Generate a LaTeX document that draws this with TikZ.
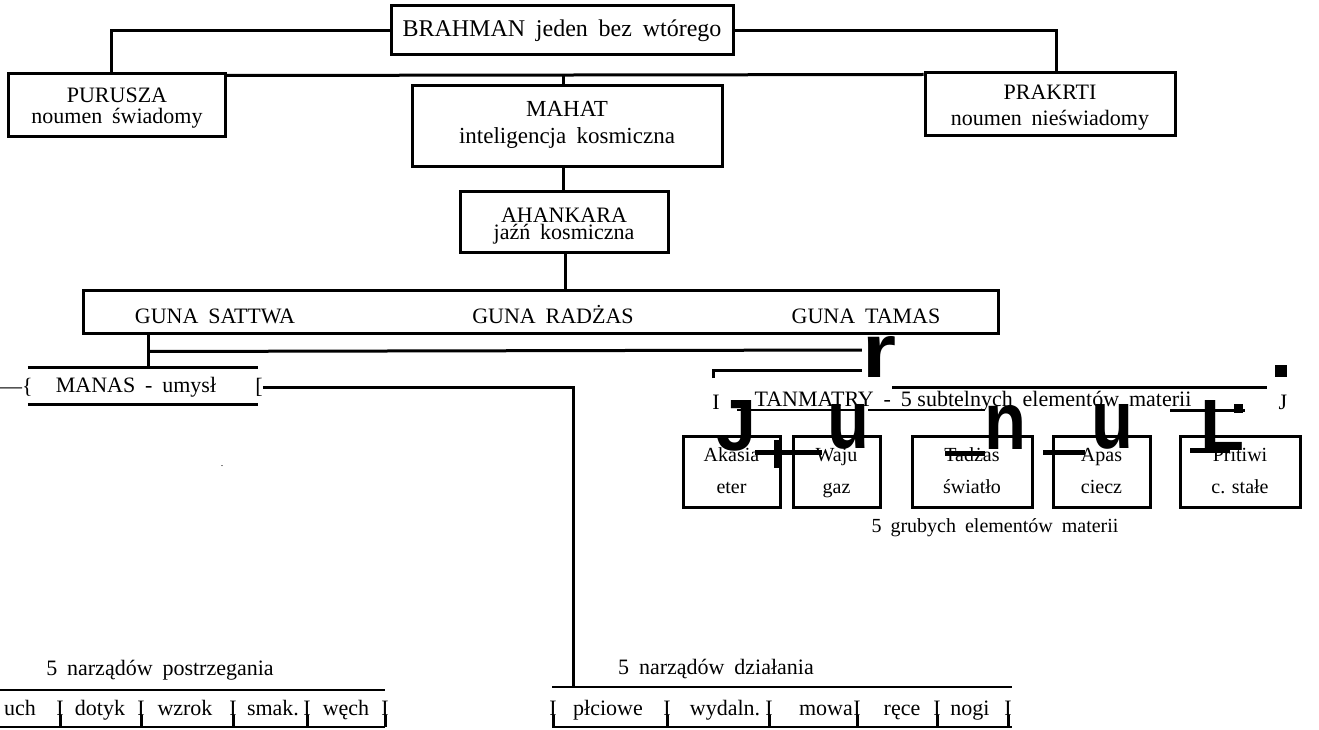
\documentclass[tikz,border=0pt]{standalone}
\usepackage{fontspec}
\setmainfont{Liberation Serif}
\newfontfamily\bigsans{Liberation Sans}
\newcommand\myfs[2]{\fontsize{#1}{#2}\selectfont}
\newcommand\gp{\hspace{0.45em}}
\newcommand\bigglyph[3]{\resizebox{#1pt}{#2pt}{\bigsans\bfseries #3}}
\begin{document}
\begin{tikzpicture}[x=1pt,y=-1pt,
  box/.style={draw, line width=3pt, inner sep=0, align=center},
  lab/.style={inner sep=0, align=center},
  ln/.style={line width=3pt},
  thin/.style={line width=2pt},
  bar/.style={line width=5pt},
  txt/.style={inner sep=0, font=\myfs{22}{22}},
  row/.style={inner sep=0, anchor=base, font=\myfs{22}{22}},
  small/.style={inner sep=0, font=\myfs{20}{20}},
  glyph/.style={inner sep=0, anchor=south}]
\useasboundingbox (0,0) rectangle (1319,730);

% top level
\node[box, minimum width=342, minimum height=49, font=\myfs{24}{24}] (brahman) at (562,30.5) {BRAHMAN\gp jeden\gp bez\gp wtórego};
\node[box, minimum width=217, minimum height=63] (purusza) at (116.5,105.5) {};
\node[lab, font=\myfs{22}{21}] (purushaT) at (117,108) {PURUSZA\\noumen\gp świadomy};
\node[box, minimum width=250, minimum height=63] (prakrti) at (1050,104.5) {};
\node[lab, font=\myfs{22}{26}] (prakrtiT) at (1050,108) {PRAKRTI\\noumen\gp nieświadomy};
\node[box, minimum width=310, minimum height=81] (mahat) at (567,126.5) {};
\node[lab, font=\myfs{23}{27}] (mahatT) at (567,124.5) {MAHAT\\inteligencja\gp kosmiczna};
\node[box, minimum width=208, minimum height=60] (ahankara) at (564,222) {};
\node[lab, font=\myfs{22}{17}] (ahankaraT) at (564,226) {AHANKARA\\jaźń\gp kosmiczna};

\draw[ln] (brahman.west) -| ([xshift=-5]purusza.north);
\draw[ln] (brahman.east) -| ([xshift=6]prakrti.north);
\draw[ln] ([yshift=-3]purusza.north east) -- ([yshift=-3]prakrti.north west);
\draw[ln] ([xshift=-4]mahat.north) -- ++(0,-9);
\draw[ln] ([xshift=-4]mahat.south) -- ([xshift=-1]ahankara.north);
\draw[ln] ([xshift=1]ahankara.south) -- ++(0,38) coordinate (gunatop);

% guna
\node[box, minimum width=915, minimum height=43] (guna) at (540.5,311.5) {};
\node[txt] (sattwa) at (215,316) {GUNA\gp SATTWA};
\node[txt] (radzas) at (553,315) {GUNA\gp RADŻAS};
\node[txt] (tamas) at (866,316) {GUNA\gp TAMAS};

% manas
\node[inner sep=0, minimum width=230, minimum height=36] (manas) at (143,386) {};
\node[txt] (manaslabel) at (136,387) {MANAS\gp -\gp umysł};
\node[txt, anchor=west] (lbrace) at (0,387) {—\{};
\node[txt] (rbrack) at (259,387) {[};
\draw[ln] (manas.north west) -- (manas.north east);
\draw[ln] (manas.south west) -- (manas.south east);
\draw[ln] ([xshift=67]guna.south west) -- ([xshift=67]guna.south west |- manas.north);
\coordinate (dzl) at (573,687);
\draw[ln] (rbrack.east) -| (dzl);

% tanmatry
\node[glyph] (rg) at (879,378) {\bigglyph{34}{41}{r}};
\draw[ln] ([xshift=67,yshift=-17]guna.south west) -- (rg.west |- 0,350);
\draw[ln] (713,378) -- (713,370) -- (rg.west |- 0,370);
\draw[ln] (892,387) -- (1267,387);
\node[fill, inner sep=0, minimum size=12] (dot) at (1281,371) {};
\node[txt] (tI) at (716,402) {I};
\node[txt] (tanmatry) at (973,401) {TANMATRY\gp -\gp 5 subtelnych\gp elementów\gp materii};
\node[txt] (tJ) at (1283,402) {J};
\draw[thin] (737,410) -- (862,410);
\draw[thin] (868,410) -- (985,410);
\draw[ln] (1170,410) -- (1245,410);
\node[fill, inner sep=0, minimum size=9] (blob) at (1238,408) {};

% gross elements
\node[box, minimum width=97, minimum height=71, font=\myfs{20}{32}] (akasia) at (731.5,471.5) {Akasia\strut\\eter\strut};
\node[box, minimum width=87, minimum height=71, font=\myfs{20}{32}] (waju) at (836.5,471.5) {Waju\strut\\gaz\strut};
\node[box, minimum width=120, minimum height=71, font=\myfs{20}{32}] (tadzas) at (972,471.5) {Tadżas\strut\\światło\strut};
\node[box, minimum width=97, minimum height=71, font=\myfs{20}{32}] (apas) at (1101.5,471.5) {Apas\strut\\ciecz\strut};
\node[box, minimum width=120, minimum height=71, font=\myfs{20}{32}] (pritiwi) at (1240,471.5) {Pritiwi\strut\\c. stałe\strut};
\node[glyph] (gJ) at (737,451) {\bigglyph{40}{50}{J}};
\node[glyph] (gu1) at (848,450) {\bigglyph{42}{44}{u}};
\node[glyph] (gn) at (1005,450) {\bigglyph{42}{44}{n}};
\node[glyph] (gu2) at (1112,450) {\bigglyph{42}{44}{u}};
\node[glyph] (gL) at (1222,451) {\bigglyph{44}{50}{L}};
\draw[bar] (755,452) -- (822,452);
\draw[bar] (776,440) -- (776,468);
\draw[bar] (945,453) -- (985,453);
\draw[bar] (1043,452) -- (1085,452);
\draw[bar] (1190,450) -- (1230,450);
\node[small] (grube) at (995,528) {5\gp grubych\gp elementów\gp materii};
\node[inner sep=0, font=\myfs{10}{10}] (speck) at (222,466) {.};

% perception organs
\node[row] (post) at (160,675) {5\gp narządów\gp postrzegania};
\draw[thin] (0,690) -- (385,690);
\draw[thin] (0,727) -- (385,727);
\node[row, anchor=base east] (w1) at (36,715) {uch};
\node[row] (i1) at (60,715) {I};
\node[row] (w2) at (100,715) {dotyk};
\node[row] (i2) at (141,715) {I};
\node[row] (w3) at (185,715) {wzrok};
\node[row] (i3) at (233,715) {I};
\node[row] (w4) at (273,715) {smak.};
\node[row] (i4) at (307,715) {I};
\node[row] (w5) at (346,715) {węch};
\node[row] (i5) at (385,715) {I};
\foreach \n in {i1,i2,i3,i4,i5} \draw[ln] (\n.base) -- ++(0,12);

% action organs
\node[row] (dzial) at (716,674) {5\gp narządów\gp działania};
\draw[thin] (552,687) -- (1012,687);
\draw[thin] (552,727) -- (1012,727);
\node[row] (j1) at (553,715) {I};
\node[row] (v1) at (608,715) {płciowe};
\node[row] (j2) at (667,715) {I};
\node[row] (v2) at (725,715) {wydaln.};
\node[row] (j3) at (769,715) {I};
\node[row] (v3) at (826,715) {mowa};
\node[row] (j4) at (857,715) {I};
\node[row] (v4) at (902,715) {ręce};
\node[row] (j5) at (937,715) {I};
\node[row] (v5) at (970,715) {nogi};
\node[row] (j6) at (1008,715) {I};
\foreach \n in {j1,j2,j3,j4,j5,j6} \draw[ln] (\n.base) -- ++(0,12);
\end{tikzpicture}
\end{document}
